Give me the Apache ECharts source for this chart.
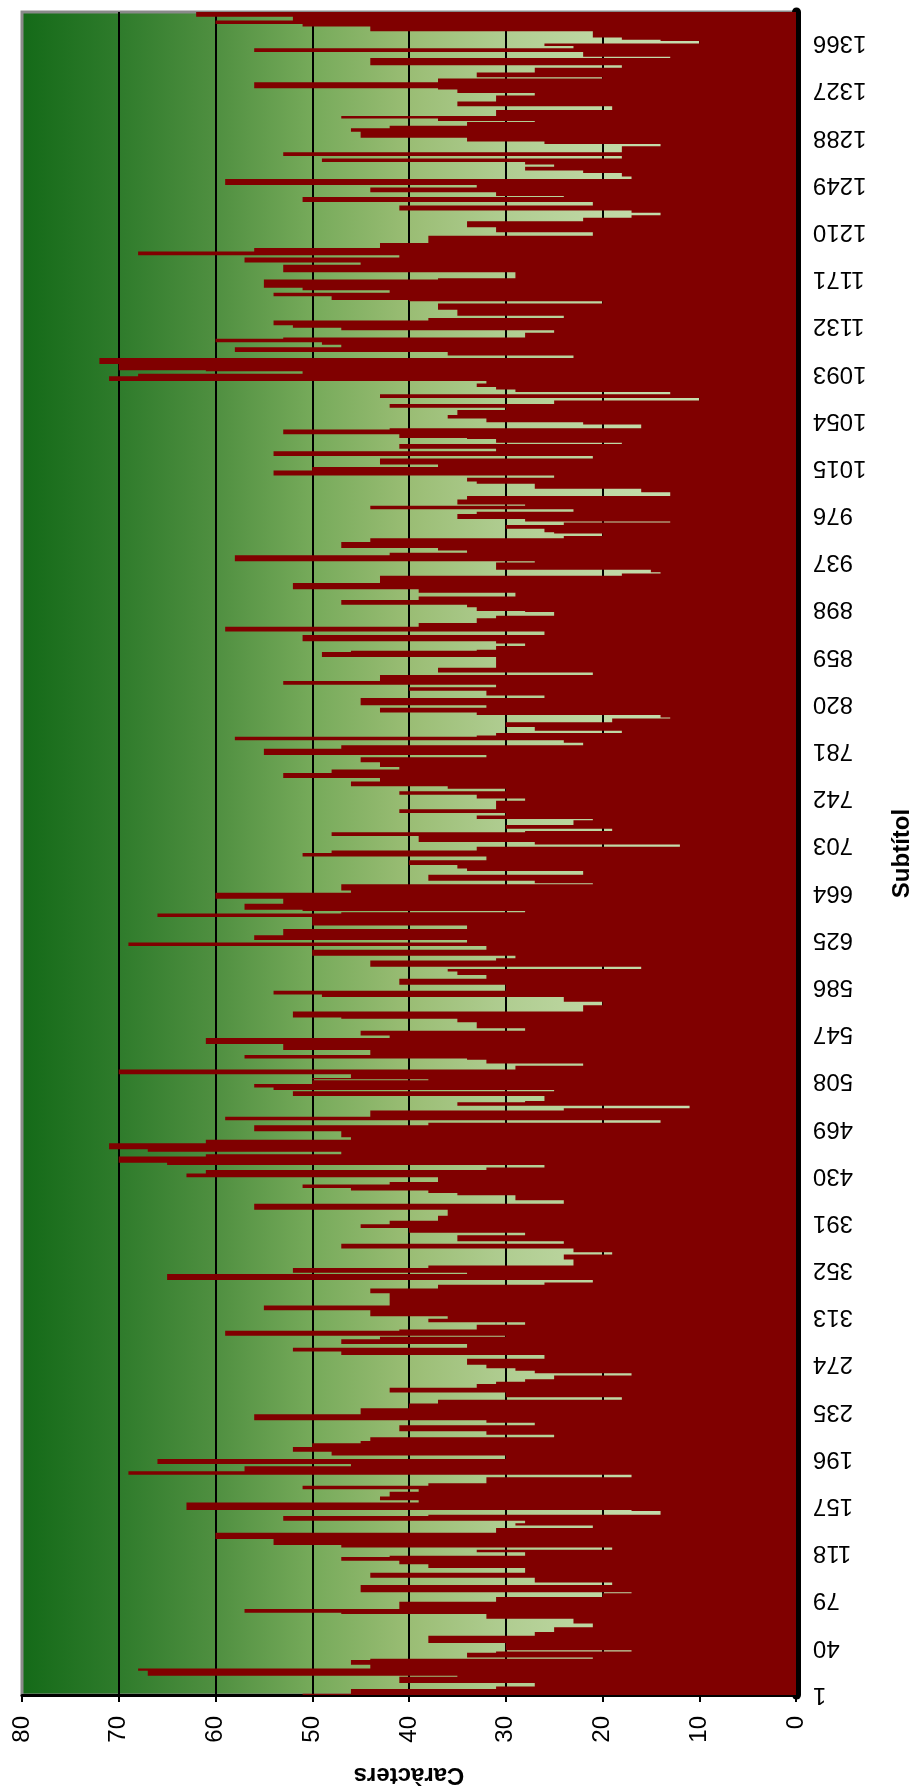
<!DOCTYPE html>
<html>
<head>
<meta charset="utf-8">
<title>Caràcters per subtítol</title>
<script src="https://cdn.jsdelivr.net/npm/echarts@6/dist/echarts.min.js"></script>
<style>
  html, body { margin: 0; padding: 0; background: #ffffff; }
  #grafic { width: 922px; height: 1792px; }
</style>
</head>
<body>
<div id="grafic"></div>
<script>
// Nombre de caràcters de cada subtítol, en trams consecutius
const chars_0001_0164 = [
  51,46,46,46,46,31,31,27,27,27,41,41,41,41,41,35,67,67,67,67,68,68,44,44,44,46,46,46,46,44,
  21,34,34,34,34,31,17,30,30,30,30,30,30,38,38,38,38,38,38,27,27,27,25,25,25,25,21,21,21,23,
  23,23,23,32,32,32,32,47,57,57,57,41,41,41,41,41,41,31,31,31,31,20,20,20,17,45,45,45,45,45,
  45,19,19,27,27,27,27,44,44,44,44,28,28,28,28,38,38,38,41,41,41,47,47,47,42,28,28,28,33,33,
  19,19,47,47,54,54,54,54,54,60,60,60,60,60,31,31,31,31,21,21,29,29,28,28,53,53,53,53,38,14,
  14,14,17,63,63,63,63,63,63,39,39,43,43,43
];
const chars_0165_0336 = [
  42,42,42,42,39,39,51,51,51,38,38,32,32,32,32,32,17,17,69,69,69,57,57,57,57,46,46,66,66,66,
  66,30,30,30,48,48,48,52,52,52,52,50,50,50,45,45,44,44,44,25,25,32,32,32,41,41,41,41,41,27,
  27,32,32,56,56,56,56,56,45,45,45,45,45,40,40,40,40,37,37,37,18,18,30,30,30,30,42,42,42,42,
  33,33,33,31,31,28,28,25,25,25,17,17,27,27,29,29,32,32,32,34,34,34,34,34,26,26,26,47,47,47,
  52,52,52,34,34,34,47,47,47,47,43,43,30,59,59,59,59,41,33,33,33,33,28,28,38,38,38,36,36,44,
  44,44,44,44,55,55,55,55,42,42,42,42,42,42,42,42,42,42,44,44,44,44
];
const chars_0337_0512 = [
  37,37,37,26,26,21,21,65,65,65,65,65,34,52,52,52,52,38,38,23,23,23,23,23,24,24,24,24,19,19,
  23,23,23,47,47,47,47,24,24,35,35,35,35,35,28,28,40,40,40,40,45,45,45,42,42,42,37,37,37,37,
  36,36,36,36,36,56,56,56,56,56,24,24,24,29,29,29,29,35,35,38,38,46,46,51,51,51,42,42,37,37,
  37,37,63,63,63,61,61,61,32,32,26,26,65,65,70,70,70,70,70,61,61,47,47,67,67,71,71,71,71,71,
  61,61,61,46,46,47,47,47,47,47,56,56,56,56,56,38,38,14,14,59,59,59,44,44,44,44,44,24,24,11,
  11,35,35,35,28,26,26,26,26,52,52,52,52,25,54,54,56,56,56,50,50,50,38,50,46,46
];
const chars_0513_0688 = [
  46,70,70,70,70,29,29,29,22,22,32,32,32,34,57,57,57,44,44,44,44,53,53,53,53,53,61,61,61,61,
  61,42,42,45,45,45,45,28,28,33,33,33,33,33,35,35,35,47,52,52,52,52,52,22,22,22,22,22,20,20,
  20,24,24,24,24,49,49,54,54,54,30,30,30,30,30,41,41,41,41,41,32,32,32,35,35,35,36,36,16,16,
  44,44,44,44,44,31,31,29,29,50,50,50,50,50,32,32,32,69,69,69,34,34,56,56,56,56,53,53,53,53,
  53,34,34,34,50,50,50,50,50,50,50,66,66,66,47,28,51,57,57,57,57,57,53,53,53,53,60,60,60,60,
  60,46,46,47,47,47,47,47,21,27,27,38,38,38,38,38,22,22,22,34,34,35,35,35,40,40
];
const chars_0689_0864 = [
  40,40,32,32,32,51,51,51,48,48,33,33,33,12,12,27,27,39,39,39,39,39,48,48,48,28,19,19,30,30,
  30,23,23,23,23,21,33,33,33,30,30,41,41,41,31,31,31,31,31,31,31,28,28,33,33,33,41,41,41,30,
  30,36,36,46,46,46,46,43,43,43,53,53,53,53,48,48,48,41,41,43,43,43,43,45,45,45,45,32,32,55,
  55,55,55,55,47,47,47,22,22,24,24,58,58,58,33,31,31,18,18,27,27,27,30,30,30,30,19,19,19,13,
  14,14,33,33,43,43,43,43,32,32,45,45,45,45,45,45,26,26,32,32,32,32,40,40,40,31,31,53,53,53,
  43,43,43,43,43,21,21,37,37,37,37,31,31,31,31,31,31,31,31,31,49,49,49,49,46,33
];
const chars_0865_1039 = [
  31,31,31,28,28,31,31,51,51,51,51,51,26,26,26,59,59,59,59,39,39,39,33,33,33,33,31,31,25,25,
  25,28,33,33,33,34,34,47,47,47,47,39,39,39,29,29,29,39,39,39,52,52,52,52,52,43,43,43,43,43,
  43,18,18,14,15,15,31,31,31,31,31,31,27,58,58,58,58,58,42,42,34,34,37,37,47,47,47,47,47,44,
  44,44,24,24,20,20,25,26,26,26,30,30,30,24,24,13,28,28,35,35,35,35,33,33,23,23,44,44,44,28,
  35,35,35,35,34,34,34,13,13,13,16,16,16,27,27,27,27,33,33,34,34,34,25,25,54,54,54,54,50,50,
  50,37,37,43,43,43,43,43,21,21,54,54,54,54,31,31,41,41,41,41,18,31,31,31,34
];
const chars_1040_1214 = [
  41,41,41,53,53,53,53,42,16,16,16,22,22,32,32,32,36,36,36,35,35,35,35,30,30,42,42,42,25,25,
  25,10,10,43,43,43,13,13,29,29,31,31,33,33,33,32,32,71,71,71,71,68,68,51,51,61,70,70,70,70,
  70,72,72,72,72,72,23,23,36,36,36,58,58,58,58,47,47,49,49,60,60,60,53,28,28,28,28,25,25,47,
  47,52,52,54,54,54,54,38,38,24,24,35,35,35,35,35,37,37,37,37,37,20,20,40,48,48,48,54,54,54,
  42,42,51,51,55,55,55,55,55,55,55,37,29,29,29,29,29,53,53,53,53,53,53,45,45,57,57,57,57,41,
  41,68,68,68,56,56,56,43,43,43,43,38,38,38,38,38,38,21,21,21,31,31,31,31,34
];
const chars_1215_1391 = [
  34,34,34,34,22,22,22,17,17,14,14,17,17,41,41,41,41,21,21,21,51,51,51,51,24,31,31,31,44,44,
  44,44,33,33,59,59,59,59,59,17,17,18,18,18,22,22,28,28,28,25,25,28,28,49,49,49,18,18,53,53,
  53,18,18,18,18,18,14,14,26,26,34,34,34,45,45,45,45,45,46,46,46,42,42,34,34,34,27,37,37,47,
  47,31,31,31,31,31,19,19,19,35,35,35,35,31,31,31,31,31,27,27,35,35,35,37,56,56,56,56,56,37,
  37,37,20,33,33,33,33,27,27,27,27,18,18,44,44,44,44,44,44,13,22,22,22,22,56,56,56,23,23,26,
  26,10,10,14,18,18,21,21,21,21,21,44,44,44,44,51,51,60,60,60,52,52,52,62,62,62,62
];

const caracters = [].concat(
  chars_0001_0164, chars_0165_0336, chars_0337_0512, chars_0513_0688,
  chars_0689_0864, chars_0865_1039, chars_1040_1214, chars_1215_1391
);
// Número d'ordre de cada subtítol (1, 2, 3, ...)
const subtitols = caracters.map((_, i) => String(i + 1));

// Escala de caràcters
const escalaMin = 0;
const escalaMax = 80;
const escalaPas = 10;

const textEixos = { fontFamily: 'Liberation Sans', fontSize: 24, color: '#000000' };
const textTitols = { fontFamily: 'Liberation Sans', fontSize: 24, fontWeight: 'bold', color: '#000000' };

const grafic = echarts.init(document.getElementById('grafic'), null, { renderer: 'canvas' });
grafic.setOption({
  animation: false,
  grid: {
    left: 22, right: 121, top: 12, bottom: 92,
    show: true,
    borderColor: '#8a8a8a',
    borderWidth: 3,
    backgroundColor: new echarts.graphic.LinearGradient(0, 0, 1, 0, [
      { offset: 0.000, color: '#146a18' },
      { offset: 0.125, color: '#2e7b2b' },
      { offset: 0.250, color: '#4f8f40' },
      { offset: 0.375, color: '#76aa5a' },
      { offset: 0.500, color: '#9abd74' },
      { offset: 0.625, color: '#b0cd91' },
      { offset: 0.750, color: '#bfd8a4' },
      { offset: 1.000, color: '#cfe4bb' }
    ])
  },
  xAxis: {
    type: 'value',
    inverse: true,
    position: 'bottom',
    min: escalaMin,
    max: escalaMax,
    interval: escalaPas,
    name: 'Caràcters',
    nameLocation: 'middle',
    nameGap: 68,
    nameRotate: 180,
    nameTextStyle: textTitols,
    axisLine: { show: true, lineStyle: { color: '#000000', width: 3 } },
    axisTick: { show: true, length: 7, lineStyle: { color: '#000000', width: 2 } },
    axisLabel: Object.assign({ rotate: 90, margin: 21 }, textEixos),
    splitLine: {
      show: true,
      showMinLine: false,
      showMaxLine: false,
      lineStyle: { color: '#000000', width: 2 }
    }
  },
  yAxis: {
    type: 'category',
    data: subtitols,
    position: 'right',
    offset: 3,
    name: 'Subtítol',
    nameLocation: 'middle',
    nameGap: 91,
    nameRotate: 90,
    nameTextStyle: textTitols,
    axisLine: { show: true, lineStyle: { color: '#000000', width: 9 } },
    axisTick: { show: false },
    axisLabel: Object.assign({ interval: 38, rotate: 180, margin: 14 }, textEixos),
    splitLine: { show: false }
  },
  series: [{
    type: 'bar',
    data: caracters,
    barCategoryGap: '0%',
    silent: true,
    // all bars go into one filled path, so touching bars leave no hairline seams
    large: true,
    largeThreshold: 200,
    itemStyle: { color: '#800000' }
  }]
});
</script>
</body>
</html>
